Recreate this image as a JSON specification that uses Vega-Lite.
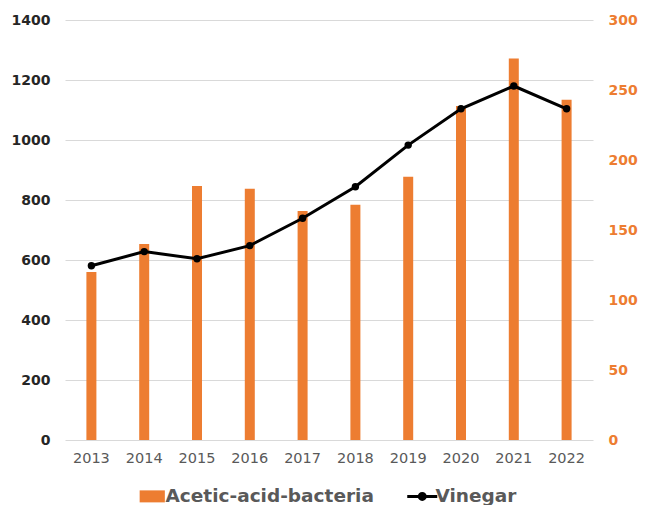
{
  "$schema": "https://vega.github.io/schema/vega-lite/v6.json",
  "autosize": {"type": "none"},
  "padding": {"left": 65, "top": 20, "right": 55, "bottom": 65},
  "width": 528,
  "height": 420,
  "background": "white",
  "config": {
    "font": "DejaVu Sans",
    "view": {"stroke": null}
  },
  "data": {
    "values": [
      {"year": "2013", "bacteria": 120, "vinegar": 581},
      {"year": "2014", "bacteria": 140, "vinegar": 628},
      {"year": "2015", "bacteria": 181.5, "vinegar": 604},
      {"year": "2016", "bacteria": 179.5, "vinegar": 648},
      {"year": "2017", "bacteria": 163.5, "vinegar": 739},
      {"year": "2018", "bacteria": 168, "vinegar": 844},
      {"year": "2019", "bacteria": 188, "vinegar": 983},
      {"year": "2020", "bacteria": 238.5, "vinegar": 1104},
      {"year": "2021", "bacteria": 272.5, "vinegar": 1180},
      {"year": "2022", "bacteria": 243, "vinegar": 1104}
    ]
  },
  "encoding": {
    "x": {
      "field": "year",
      "type": "ordinal",
      "scale": {"paddingInner": 0, "paddingOuter": 0},
      "axis": {
        "title": null,
        "labelAngle": 0,
        "labelFontSize": 14.5,
        "labelColor": "#595959",
        "labelPadding": 11,
        "ticks": false,
        "domain": false,
        "grid": false
      }
    },
    "color": {
      "scale": {"domain": ["Acetic-acid-bacteria", "Vinegar"], "range": ["#ED7D31", "#000000"]},
      "legend": {
        "title": null,
        "orient": "none",
        "direction": "horizontal",
        "legendX": 78,
        "legendY": 467,
        "labelFontSize": 18.5,
        "labelFontWeight": "bold",
        "labelColor": "#595959",
        "labelLimit": 400,
        "labelOffset": 4,
        "columnPadding": 27,
        "symbolSize": 900,
        "symbolStrokeWidth": 3,
        "encode": {
          "symbols": {
            "update": {
              "shape": {"signal": "datum.value === 'Vinegar' ? 'M-1,0H1M-0.2,0A0.2,0.2 0 1 1 0.2,0A0.2,0.2 0 1 1 -0.2,0Z' : 'M-0.84,-0.4H0.84V0.4H-0.84Z'"},
              "fill": {"signal": "datum.value === 'Vinegar' ? '#000000' : '#ED7D31'"},
              "stroke": {"signal": "datum.value === 'Vinegar' ? '#000000' : '#ED7D31'"},
              "strokeWidth": {"signal": "datum.value === 'Vinegar' ? 3 : 0"},
              "opacity": {"value": 1},
              "fillOpacity": {"value": 1}
            }
          }
        }
      }
    }
  },
  "layer": [
    {
      "mark": {"type": "bar", "size": 10, "color": "#ED7D31"},
      "encoding": {
        "y": {
          "field": "bacteria",
          "type": "quantitative",
          "scale": {"domain": [0, 300], "nice": false},
          "axis": {
            "orient": "right",
            "title": null,
            "values": [0, 50, 100, 150, 200, 250, 300],
            "grid": false,
            "ticks": false,
            "domain": false,
            "labelFontSize": 14,
            "labelFontWeight": "bold",
            "labelColor": "#ED7D31",
            "labelPadding": 15
          }
        },
        "color": {"datum": "Acetic-acid-bacteria"}
      }
    },
    {
      "mark": {"type": "line", "strokeWidth": 3, "point": {"filled": true, "size": 55}},
      "encoding": {
        "y": {
          "field": "vinegar",
          "type": "quantitative",
          "scale": {"domain": [0, 1400], "nice": false},
          "axis": {
            "orient": "left",
            "title": null,
            "format": "d",
            "values": [0, 200, 400, 600, 800, 1000, 1200, 1400],
            "grid": true,
            "gridColor": "#D9D9D9",
            "gridWidth": 1.2,
            "ticks": false,
            "domain": false,
            "labelFontSize": 14,
            "labelFontWeight": "bold",
            "labelColor": "#262626",
            "labelPadding": 15
          }
        },
        "color": {"datum": "Vinegar"}
      }
    }
  ],
  "resolve": {"scale": {"y": "independent"}}
}
